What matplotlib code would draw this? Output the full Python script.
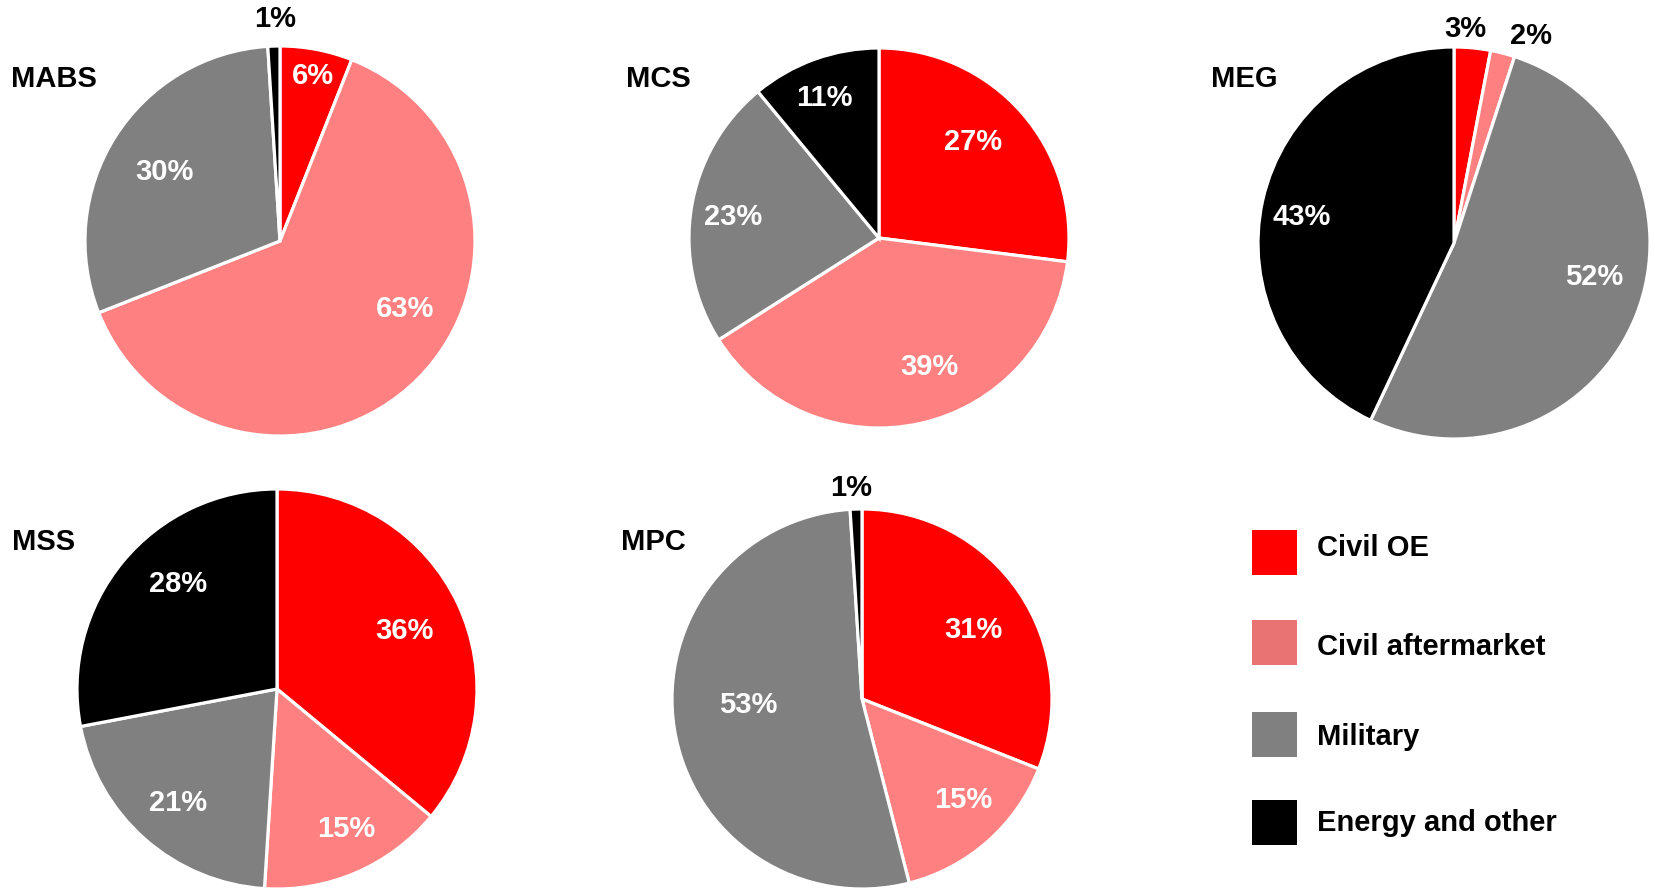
import numpy as np
import matplotlib.pyplot as plt
from matplotlib.patches import Rectangle

plt.rcParams['font.family'] = ['Liberation Sans', 'DejaVu Sans']
plt.rcParams['font.weight'] = 'bold'

categories = ['Civil OE', 'Civil aftermarket', 'Military', 'Energy and other']
colors = ['#ff0000', '#ff8080', '#808080', '#000000']
legend_colors = ['#ff0000', '#e97373', '#808080', '#000000']

segments = ['MABS', 'MCS', 'MEG', 'MSS', 'MPC']
mabs = [6, 63, 30, 1]
mcs = [27, 39, 23, 11]
meg = [3, 2, 52, 43]
mss = [36, 15, 21, 28]
mpc = [31, 15, 53, 1]
shares = [mabs, mcs, meg, mss, mpc]

W, H = 1656, 889
FS = 21

# pie centre x, centre y, radius, title x, title y (pixels, top-left origin)
layout = {
    'MABS': (280, 241, 195, 11, 79),
    'MCS': (879, 238, 190, 626, 79),
    'MEG': (1454, 243, 196, 1211, 79),
    'MSS': (277, 689, 200, 12, 542),
    'MPC': (862, 699, 190, 621, 542),
}

# label offsets from the pie centre in pixels, one per slice
label_pos = {
    'MABS': [(33, -165), (125, 68), (-116, -69), (-5, -222)],
    'MCS': [(94, -96), (50, 129), (-146, -21), (-55, -140)],
    'MEG': [(11, -214), (77, -207), (140, 34), (-152, -26)],
    'MSS': [(127, -58), (69, 140), (-99, 114), (-99, -105)],
    'MPC': [(111, -69), (101, 101), (-114, 6), (-11, -211)],
}

fig = plt.figure(figsize=(W / 100, H / 100), dpi=100)


def frac(x, y):
    return x / W, 1 - y / H


for name, vals in zip(segments, shares):
    cx, cy, r, tx, ty = layout[name]
    x0, y0 = frac(cx - r, cy + r)
    ax = fig.add_axes([x0, y0, 2 * r / W, 2 * r / H])
    wedges, _ = ax.pie(vals, colors=colors, startangle=90, counterclock=False,
                       wedgeprops=dict(edgecolor='white', linewidth=2.3))
    ax.set_xlim(-1, 1)
    ax.set_ylim(-1, 1)
    ax.set_aspect('equal')
    ax.axis('off')

    for v, (dx, dy) in zip(vals, label_pos[name]):
        col = 'black' if v <= 3 else 'white'
        ax.text(dx / r, -dy / r, '%d%%' % v, color=col, fontsize=FS,
                fontweight='bold', ha='center', va='center', clip_on=False)

    fx, fy = frac(tx, ty)
    fig.text(fx, fy, name, fontsize=FS, fontweight='bold', ha='left',
             va='center')

# legend drawn by hand
box_y = [530, 620, 712, 800]
text_y = [548, 647, 737, 823]
for cat, col, by, ty in zip(categories, legend_colors, box_y, text_y):
    bx, bb = frac(1252, by + 45)
    fig.add_artist(Rectangle((bx, bb), 45 / W, 45 / H, facecolor=col,
                             edgecolor='none', transform=fig.transFigure))
    fx, fy = frac(1317, ty)
    fig.text(fx, fy, cat, fontsize=FS, fontweight='bold', ha='left',
             va='center')

fig.savefig('out.png', dpi=100, facecolor='white')
